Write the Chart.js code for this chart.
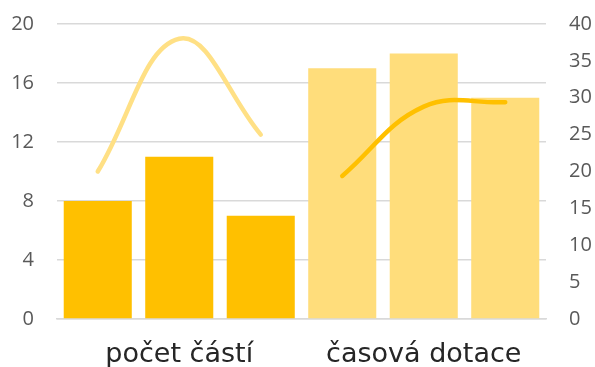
<!DOCTYPE html>
<html>

<head>
    <title>počet částí / časová dotace</title>
    <script src="https://cdn.jsdelivr.net/npm/chart.js"></script>
    <style>
        body { margin: 0; background: #fff; }
        #wrap { width: 595px; height: 367px; }
    </style>
</head>

<body>

    <div id="wrap"><canvas id="myChart" width="595" height="367"></canvas></div>

    <script>
        // categories: one slot per bar, group label under the middle bar
        var labels = ['', 'počet částí', '', '', 'časová dotace', ''];

        // bars, left axis
        var barsParts = [8, 11, 7, null, null, null];
        var barsTime = [null, null, null, 17, 18, 15];

        // lines, right axis
        var lineParts = [20, 38, 25, null, null, null];
        var lineTime = [null, null, null, 19.4, 28.8, 29.4];

        // tick settings
        var leftMax = 20, leftStep = 4;
        var rightMax = 40, rightStep = 5;

        var gold = '#FFC000';
        var lightGold = '#FFDD7B';
        var gridColor = '#D9D9D9';
        var tickColor = '#595959';
        var noColor = 'rgba(0,0,0,0)';

        var ctx = document.getElementById('myChart').getContext('2d');

        var myChart = new Chart(ctx, {
            type: 'bar',
            data: {
                labels: labels,
                datasets: [{
                    type: 'line',
                    data: lineParts,
                    yAxisID: 'y2',
                    borderColor: '#FFE085',
                    borderWidth: 4.5,
                    borderCapStyle: 'round',
                    pointRadius: 0,
                    tension: 0.4,
                    order: 0
                }, {
                    type: 'line',
                    data: lineTime,
                    yAxisID: 'y2',
                    borderColor: gold,
                    borderWidth: 4.5,
                    borderCapStyle: 'round',
                    pointRadius: 0,
                    tension: 0.4,
                    order: 0
                }, {
                    data: barsParts,
                    yAxisID: 'y',
                    backgroundColor: gold,
                    order: 1
                }, {
                    data: barsTime,
                    yAxisID: 'y',
                    backgroundColor: lightGold,
                    order: 1
                }]
            },
            options: {
                responsive: false,
                animation: false,
                layout: { padding: { top: 24, left: 0, right: 0, bottom: 0 } },
                datasets: {
                    bar: { grouped: false, barPercentage: 1, categoryPercentage: 0.835 }
                },
                plugins: {
                    legend: { display: false },
                    tooltip: { enabled: false }
                },
                scales: {
                    x: {
                        grid: { display: false },
                        border: { display: true, color: gridColor, width: 1.5 },
                        ticks: {
                            autoSkip: false,
                            maxRotation: 0,
                            color: '#262626',
                            padding: 12,
                            font: { family: 'DejaVu Sans', size: 27 }
                        },
                        afterFit: function (scale) { scale.height = 48; }
                    },
                    y: {
                        position: 'left',
                        min: 0,
                        max: leftMax,
                        // invisible tick marks keep labels away from the plot
                        grid: { color: gridColor, lineWidth: 1.5, tickLength: 23, tickColor: noColor },
                        border: { display: false },
                        ticks: {
                            stepSize: leftStep,
                            padding: 0,
                            color: tickColor,
                            font: { family: 'Open Sans', size: 20 }
                        },
                        afterFit: function (scale) { scale.width = 57; }
                    },
                    y2: {
                        position: 'right',
                        min: 0,
                        max: rightMax,
                        grid: { drawOnChartArea: false, tickLength: 23, tickColor: noColor },
                        border: { display: false },
                        ticks: {
                            stepSize: rightStep,
                            padding: 0,
                            color: tickColor,
                            font: { family: 'Open Sans', size: 20 }
                        },
                        afterFit: function (scale) { scale.width = 49; }
                    }
                }
            }
        });
    </script>

</body>

</html>
